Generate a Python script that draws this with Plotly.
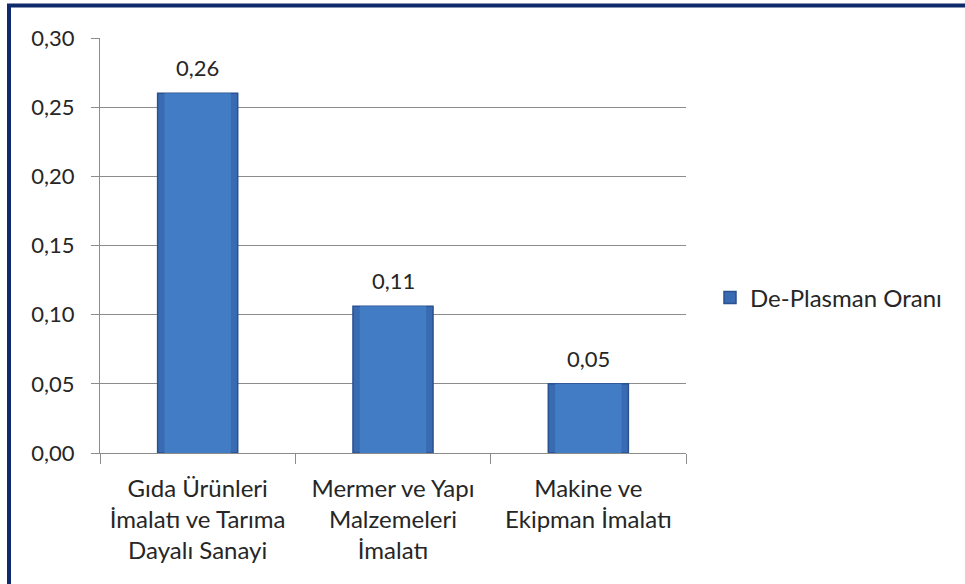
import plotly.graph_objects as go

categories = [
    "Gıda Ürünleri<br>İmalatı ve Tarıma<br>Dayalı Sanayi",
    "Mermer ve Yapı<br>Malzemeleri<br>İmalatı",
    "Makine ve<br>Ekipman İmalatı",
]
values = [0.26, 0.106, 0.05]
series_name = "De-Plasman Oranı"

W, H = 965, 584
L, R, T, B = 100, 279, 38, 131
pw, ph = W - L - R, H - T - B

def px_x(p):
    return (p - L) / pw

def px_y(p):
    return (H - B - p) / ph

fig = go.Figure()
# outer (darker) bar body
fig.add_trace(go.Bar(
    x=categories, y=values, name=series_name, width=0.41,
    marker=dict(color="#386bb1", line=dict(color="#2a5190", width=1.5)),
))
# lighter centre for a bit of the shaded look
fig.add_trace(go.Bar(
    x=categories, y=values, width=0.34, showlegend=False, hoverinfo="skip",
    marker=dict(color="#427cc4", line=dict(width=0)),
))

annotations = [
    dict(x=c, y=v, text=f"{v:.2f}".replace(".", ","), showarrow=False,
         xref="x", yref="y", yanchor="bottom", yshift=10,
         font=dict(size=22, color="#262626"))
    for c, v in zip(categories, values)
]

fig.update_layout(
    width=W, height=H,
    margin=dict(l=L, r=R, t=T, b=B),
    paper_bgcolor="white", plot_bgcolor="white",
    barmode="overlay",
    separators=",.",
    font=dict(family="Lato, 'DejaVu Sans', sans-serif", size=22, color="#262626"),
    showlegend=True,
    legend=dict(x=px_x(710), y=px_y(298), xanchor="left", yanchor="middle",
                font=dict(size=24), itemwidth=30),
    annotations=annotations,
    shapes=[dict(type="rect", xref="paper", yref="paper",
                 x0=px_x(9), x1=px_x(990), y0=px_y(610), y1=px_y(5.5),
                 line=dict(color="#0f2a6b", width=4), layer="above")],
)

fig.update_yaxes(range=[0, 0.30], dtick=0.05, tickformat=".2f",
                 showgrid=True, gridcolor="#8c8c8c", gridwidth=1,
                 showline=True, linecolor="#8c8c8c", linewidth=1,
                 ticks="outside", ticklen=8, tickcolor="#8c8c8c",
                 ticklabelstandoff=12,
                 zeroline=False, tickfont=dict(size=22))
fig.update_xaxes(showline=True, linecolor="#8c8c8c", linewidth=1,
                 ticks="outside", ticklen=10, tickcolor="#8c8c8c",
                 ticklabelstandoff=14,
                 tickson="boundaries", tickfont=dict(size=24))

fig.write_html("out.html", config={"displayModeBar": False},
               post_script="document.body.style.margin='0';")
